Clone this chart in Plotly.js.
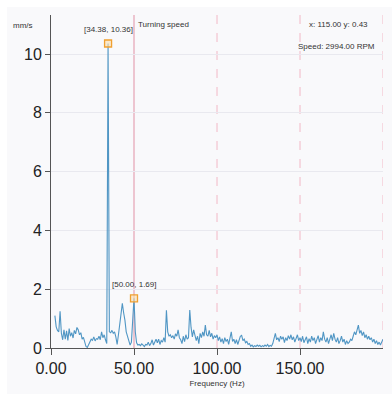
<!DOCTYPE html>
<html><head><meta charset="utf-8">
<script src="https://cdn.plot.ly/plotly-3.0.1.min.js"></script>
<style>html,body{margin:0;padding:0;background:#fff;}#c{position:absolute;left:7px;top:7px;width:385px;height:387px;}</style>
</head><body><div id="c"></div>
<script>
// Spectrum: frequency bins of 0.78125 Hz, first bin at 2.34375 Hz
const freqStart = 2.34375;
const freqStep = 0.78125;
const amplitude = [
 1.10,0.72,0.60,0.55,1.25,0.50,0.28,0.62,0.30,0.58,
 0.26,0.66,0.40,0.52,0.34,0.60,0.48,0.70,0.62,0.45,
 0.52,0.30,0.36,0.22,0.05,0.02,0.12,0.22,0.30,0.26,
 0.38,0.24,0.32,0.30,0.40,0.28,0.55,0.35,0.45,0.28,
 0.15,10.36,0.55,0.52,0.60,0.50,0.55,0.38,0.12,0.45,
 0.80,1.20,1.52,1.20,0.95,0.55,0.38,0.30,0.10,0.20,
 0.80,1.69,0.55,0.18,0.10,0.12,0.08,0.14,0.10,0.05,
 0.12,0.10,0.20,0.08,0.15,0.28,0.10,0.22,0.30,0.18,
 0.30,0.12,0.25,0.20,0.35,0.20,1.28,0.55,0.40,0.45,
 0.35,0.42,0.30,0.48,0.40,0.62,0.35,0.28,0.15,0.40,
 0.22,0.45,0.30,0.35,1.29,0.70,0.38,0.62,0.45,0.25,
 0.40,0.15,0.50,0.35,0.55,0.40,0.78,0.45,0.40,0.60,
 0.38,0.50,0.30,0.42,0.35,0.45,0.25,0.38,0.20,0.32,
 0.15,0.35,0.22,0.30,0.12,0.40,0.55,0.22,0.30,0.15,
 0.28,0.12,0.30,0.40,0.43,0.25,0.30,0.18,0.22,0.12,
 0.15,0.06,0.10,0.04,0.08,0.05,0.10,0.06,0.09,0.04,
 0.08,0.05,0.10,0.06,0.12,0.05,0.09,0.06,0.15,0.30,
 0.50,0.28,0.35,0.22,0.40,0.30,0.38,0.18,0.35,0.25,
 0.42,0.30,0.45,0.28,0.38,0.20,0.32,0.45,0.25,0.35,
 0.22,0.40,0.18,0.30,0.38,0.15,0.32,0.20,0.40,0.25,
 0.35,0.15,0.30,0.42,0.20,0.35,0.25,0.55,0.30,0.20,
 0.35,0.15,0.30,0.45,0.25,0.50,0.30,0.20,0.35,0.15,
 0.25,0.40,0.20,0.30,0.12,0.25,0.15,0.20,0.30,0.25,
 0.40,0.55,0.45,0.60,0.78,0.50,0.60,0.42,0.55,0.35,
 0.45,0.30,0.40,0.28,0.35,0.20,0.30,0.15,0.25,0.12,
 0.20,0.10,0.18,0.30
];
const peakFreqs = [34.38, 50.00];
const peakAmps = [10.36, 1.69];
const peakLabels = ['[34.38, 10.36]', '[50.00, 1.69]'];
const turningSpeedHz = 50;
const harmonicsHz = [100, 150, 200];
const xTickVals = [0, 50, 100, 150];
const xTickText = ['0.00', '50.00', '100.00', '150.00'];
const yTickVals = [0, 2, 4, 6, 8, 10];
const cursorText = 'x: 115.00 y: 0.43';
const speedText = 'Speed: 2994.00 RPM';

const FONT = '"Liberation Sans", Arial, sans-serif';

const traces = [
 {type:'scatter', mode:'lines', x0:freqStart, dx:freqStep, y:amplitude,
  line:{color:'#5096c4', width:1.1}, hoverinfo:'skip', showlegend:false},
 {type:'scatter', mode:'markers', x:peakFreqs, y:peakAmps,
  marker:{symbol:'square', size:7, color:'rgba(250,220,170,0.6)', line:{color:'#f0a030', width:1.3}},
  showlegend:false, hoverinfo:'skip'}
];

const shapes = [];
shapes.push({type:'line', xref:'x', yref:'paper', x0:turningSpeedHz, x1:turningSpeedHz, y0:0, y1:1,
 line:{color:'#e4a2b4', width:1.2}, layer:'below'});
harmonicsHz.forEach(h => shapes.push({type:'line', xref:'x', yref:'paper', x0:h, x1:h, y0:0, y1:1,
 line:{color:'#f2b8c6', width:1, dash:'dash'}, layer:'below'}));
// end ticks of axes
shapes.push({type:'line', xref:'x', yref:'y', xsizemode:'pixel', xanchor:0, x0:0, x1:-5, y0:11.33, y1:11.33, line:{color:'#555', width:1}});
shapes.push({type:'line', xref:'x', yref:'y', ysizemode:'pixel', yanchor:0, x0:200, x1:200, y0:0, y1:-6, line:{color:'#555', width:1}});

const small = {family:FONT, size:8, color:'#333'};
const annotations = [];
peakFreqs.forEach((f,i) => annotations.push({x:f, y:peakAmps[i], xref:'x', yref:'y', text:peakLabels[i],
 showarrow:false, yshift:14, font:small}));
annotations.push({x:turningSpeedHz, y:1, xref:'x', yref:'paper', text:'Turning speed', showarrow:false,
 xanchor:'left', yanchor:'middle', xshift:2, yshift:-9, font:small});
annotations.push({x:1, y:1, xref:'paper', yref:'paper', text:cursorText, showarrow:false,
 xanchor:'right', yanchor:'middle', xshift:-13, yshift:-9, font:small});
annotations.push({x:1, y:1, xref:'paper', yref:'paper', text:speedText, showarrow:false,
 xanchor:'right', yanchor:'middle', xshift:-6, yshift:-31, font:small});
annotations.push({x:0, y:1, xref:'paper', yref:'paper', text:'mm/s', showarrow:false,
 xanchor:'left', yanchor:'middle', xshift:-40, yshift:-10, font:small});

const layout = {
 width:385, height:387,
 margin:{l:44, r:9, t:8, b:46},
 paper_bgcolor:'#f9f9fb', plot_bgcolor:'#f9f9fb',
 font:{family:FONT, color:'#222'},
 xaxis:{range:[0,200], tickvals:xTickVals, ticktext:xTickText, showgrid:false, zeroline:false,
  showline:true, linecolor:'#555', linewidth:1, ticks:'outside', ticklen:6, tickcolor:'#555',
  tickfont:{family:FONT, size:16, color:'#222'},
  title:{text:'Frequency (Hz)', font:small, standoff:4}},
 yaxis:{range:[0,11.33], tickvals:yTickVals, showgrid:true, gridcolor:'#e9e9ef', gridwidth:1, zeroline:false,
  showline:true, linecolor:'#555', linewidth:1, ticks:'outside', ticklen:5, tickcolor:'#555',
  tickfont:{family:FONT, size:16, color:'#222'}},
 shapes:shapes, annotations:annotations, showlegend:false
};
Plotly.newPlot('c', traces, layout, {displayModeBar:false, staticPlot:true});
</script></body></html>
